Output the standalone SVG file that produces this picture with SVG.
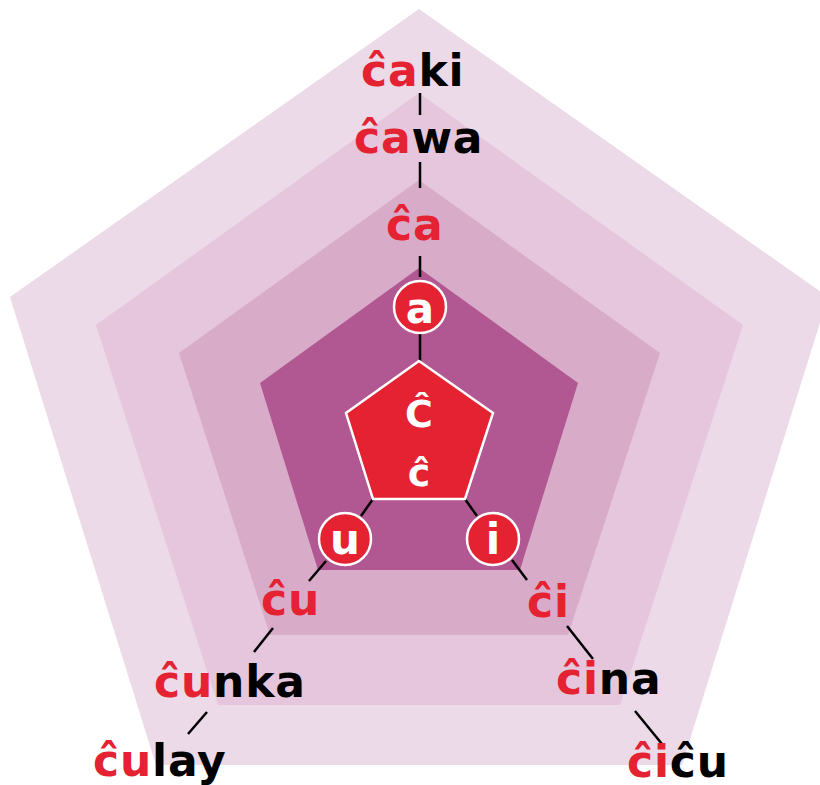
<svg xmlns="http://www.w3.org/2000/svg" width="820" height="785" viewBox="0 0 820 785">
<style>
.w{font-family:"DejaVu Sans","Liberation Sans",sans-serif;font-weight:bold;font-size:44px;letter-spacing:0.8px}
.r{fill:#e52231}
.k{fill:#000}
.wh{fill:#fff;font-family:"DejaVu Sans","Liberation Sans",sans-serif;font-weight:bold;text-anchor:middle}
.c{stroke:#000;stroke-width:2.5;fill:none}
.dot{fill:#e52231;stroke:#fff;stroke-width:2.5}
</style>
<rect width="820" height="785" fill="#fff"/>
<g id="layers">
<polygon points="419,9 828,297 682,765 156,765 10,297" fill="#ecdae8"/>
<polygon points="419,93 743,325 620,705 218,705 96,325" fill="#e5c6dc"/>
<polygon points="419,180 660,353 568,635 270,635 179,353" fill="#d8abc9"/>
<polygon points="419,268 578,383 520,570 318,570 260,383" fill="#b15892"/>
</g>
<g id="connectors" class="c">
<line x1="420" y1="93" x2="420" y2="115"/>
<line x1="420" y1="162" x2="420" y2="188"/>
<line x1="420" y1="256" x2="420" y2="277"/>
<line x1="420" y1="334" x2="420" y2="361"/>
<line x1="373" y1="499" x2="361" y2="516"/>
<line x1="465" y1="499" x2="477" y2="516"/>
<line x1="326" y1="561" x2="309" y2="581"/>
<line x1="512" y1="560" x2="527" y2="580"/>
<line x1="273" y1="628" x2="254" y2="652"/>
<line x1="567" y1="626" x2="593" y2="659"/>
<line x1="207" y1="712" x2="188" y2="734"/>
<line x1="635" y1="711" x2="662" y2="744"/>
</g>
<g id="center">
<polygon points="419,361 493,413 465,499 373,499 346,413" fill="#e52231" stroke="#fff" stroke-width="2.5"/>
<text class="wh" x="419" y="427" font-size="38">Ĉ</text>
<text class="wh" x="419" y="486" font-size="38">ĉ</text>
</g>
<g id="node-a">
<circle class="dot" cx="420" cy="307" r="26"/>
<text class="wh" x="420" y="323" font-size="42">a</text>
</g>
<g id="node-u">
<circle class="dot" cx="345" cy="539" r="26"/>
<text class="wh" x="345" y="554" font-size="42">u</text>
</g>
<g id="node-i">
<circle class="dot" cx="493" cy="539" r="26"/>
<text class="wh" x="493" y="554" font-size="42">i</text>
</g>
<g id="w-ca"><text class="w" x="386" y="240"><tspan class="r">ĉa</tspan></text></g>
<g id="w-cawa"><text class="w" x="354" y="153"><tspan class="r">ĉa</tspan><tspan class="k">wa</tspan></text></g>
<g id="w-caki"><text class="w" x="361" y="86"><tspan class="r">ĉa</tspan><tspan class="k">ki</tspan></text></g>
<g id="w-cu"><text class="w" x="261" y="615"><tspan class="r">ĉu</tspan></text></g>
<g id="w-cunka"><text class="w" x="154" y="697"><tspan class="r">ĉu</tspan><tspan class="k">nka</tspan></text></g>
<g id="w-culay"><text class="w" x="93" y="776"><tspan class="r">ĉu</tspan><tspan class="k">lay</tspan></text></g>
<g id="w-ci"><text class="w" x="527" y="617"><tspan class="r">ĉi</tspan></text></g>
<g id="w-cina"><text class="w" x="556" y="694"><tspan class="r">ĉi</tspan><tspan class="k">na</tspan></text></g>
<g id="w-cicu"><text class="w" x="627" y="777"><tspan class="r">ĉi</tspan><tspan class="k">ĉu</tspan></text></g>
</svg>
